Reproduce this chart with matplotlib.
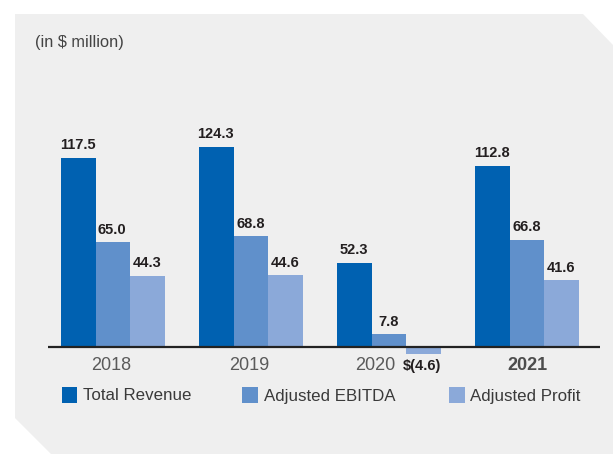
import matplotlib
matplotlib.use("Agg")
import matplotlib.pyplot as plt
from matplotlib.patches import Polygon, Rectangle

years = ["2018", "2019", "2020", "2021"]
series_names = ["Total Revenue", "Adjusted EBITDA", "Adjusted Profit"]
total_revenue = [117.5, 124.3, 52.3, 112.8]
adjusted_ebitda = [65.0, 68.8, 7.8, 66.8]
adjusted_profit = [44.3, 44.6, -4.6, 41.6]
value_labels = {
    "Total Revenue": ["117.5", "124.3", "52.3", "112.8"],
    "Adjusted EBITDA": ["65.0", "68.8", "7.8", "66.8"],
    "Adjusted Profit": ["44.3", "44.6", "$(4.6)", "41.6"],
}
colors = ["#0061B1", "#6090CB", "#8BA9D9"]

W, H = 614, 454
fig = plt.figure(figsize=(W / 100, H / 100), dpi=100)
fig.patch.set_facecolor("white")

def fx(px):
    return px / W

def fy(py):
    return 1 - py / H

# background panel with cut corners
panel = [(15, 14), (583, 14), (613, 45), (613, 454), (51, 454), (15, 418)]
fig.patches.append(Polygon([(fx(x), fy(y)) for x, y in panel], closed=True,
                           transform=fig.transFigure, facecolor="#EFEFEF",
                           edgecolor="none", zorder=-5))

fig.text(fx(35), fy(42.5), "(in $ million)", fontsize=11.8, color="#444444",
         family="Liberation Sans", va="center", ha="left")

ax_l, ax_r, ax_t, ax_b = 48, 600, 100, 360
ax = fig.add_axes([fx(ax_l), fy(ax_b), fx(ax_r) - fx(ax_l), fy(ax_t) - fy(ax_b)])
ax.set_zorder(2)
ax.patch.set_alpha(0)
ppu = 1.609
base = 347
ax.set_ylim(-(ax_b - base) / ppu, (base - ax_t) / ppu)
ax.set_xlim(-0.471, 3.529)
for s in ax.spines.values():
    s.set_visible(False)
ax.set_xticks([])
ax.set_yticks([])

bw = 0.2514
data = [total_revenue, adjusted_ebitda, adjusted_profit]
xs = list(range(len(years)))
for k, (name, vals) in enumerate(zip(series_names, data)):
    pos = [x + (k - 1) * bw for x in xs]
    ax.bar(pos, vals, width=bw, color=colors[k], zorder=2, linewidth=0)
    for p, v, lab in zip(pos, vals, value_labels[name]):
        if v >= 0:
            ax.annotate(lab, (p, v), xytext=(-0.5, 4), textcoords="offset points",
                        ha="center", va="bottom", fontsize=10.5, fontweight="bold",
                        color="#231F20", family="Liberation Sans",
                        annotation_clip=False)
        else:
            ax.annotate(lab, (p, 0), xytext=(-1.5, -13.5), textcoords="offset points",
                        ha="center", va="center", fontsize=10.5, fontweight="bold",
                        color="#231F20", family="Liberation Sans",
                        annotation_clip=False)

ax.axhline(0, color="#222222", linewidth=1.6, zorder=3)

tick_dx = [-1.0, -1.0, -10.0, 0.0]  # points
for x, yr, dx in zip(xs, years, tick_dx):
    ax.annotate(yr, (x, 0), xytext=(dx, -13.5), textcoords="offset points",
                ha="center", va="center", fontsize=13,
                fontweight="bold" if yr == "2021" else "normal",
                color="#4D4D4D" if yr == "2021" else "#5A5A5A",
                family="Liberation Sans", annotation_clip=False)

# legend
leg_sq = [61.5, 242, 449]
for sx, name, c in zip(leg_sq, series_names, colors):
    fig.patches.append(Rectangle((fx(sx), fy(402.5)), fx(15.5), fy(387) - fy(402.5),
                                 transform=fig.transFigure, facecolor=c,
                                 edgecolor="none"))
    fig.text(fx(sx + 21.5), fy(396), name, fontsize=12.2, color="#3A3A3A",
             family="Liberation Sans", va="center", ha="left")

fig.savefig("out.png", dpi=100, facecolor=fig.get_facecolor())
